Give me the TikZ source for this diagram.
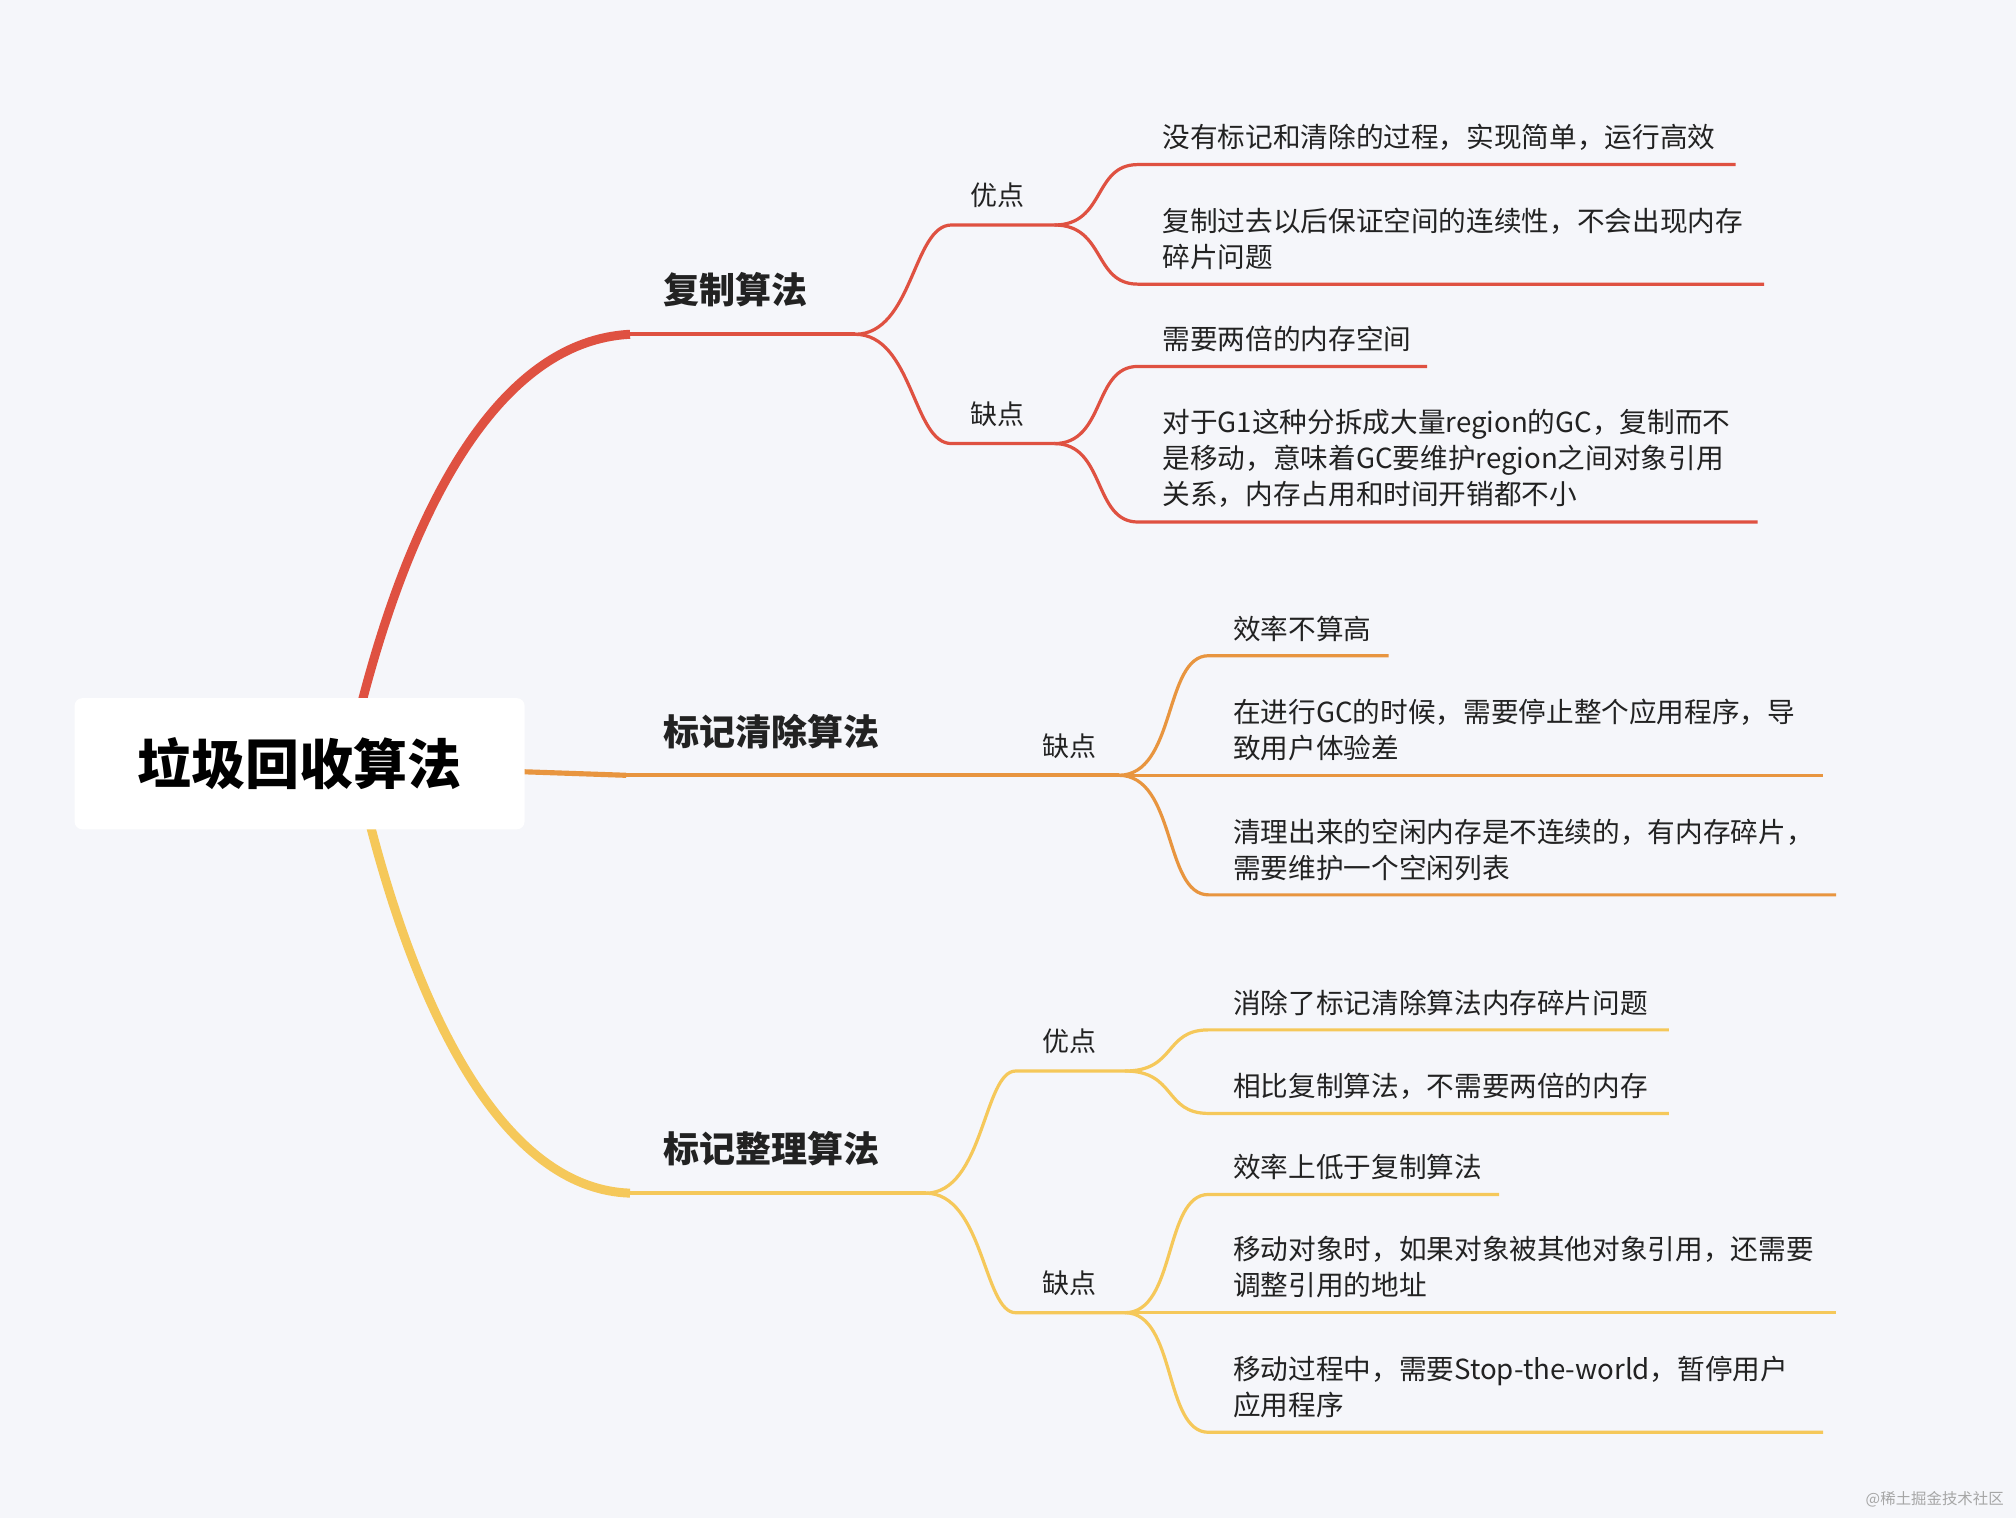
\documentclass[tikz,border=0pt]{standalone}
\usepackage{fontspec}
\setmainfont{Noto Sans CJK SC}
\definecolor{bg}{HTML}{F5F6FA}
\definecolor{cred}{HTML}{DF5141}
\definecolor{cora}{HTML}{E8953F}
\definecolor{cyel}{HTML}{F5C85A}
\definecolor{txt}{HTML}{222222}
\tikzset{x=1pt,y=-1pt,
 leaf/.style={anchor=south west,align=left,inner sep=2pt,font=\fontsize{21.5}{28}\selectfont,text=txt},
 sub/.style={anchor=south,inner sep=3pt,font=\fontsize{21}{28}\selectfont,text=txt},
 main/.style={anchor=south west,inner sep=4pt,font=\bfseries\fontsize{28}{32}\selectfont,text=txt},
 br/.style={line width=2.5pt},
}
\begin{document}
\begin{tikzpicture}
\fill[bg] (0,0) rectangle (1568,1181);
\useasboundingbox (0,0) rectangle (1568,1181);
% main branches
\coordinate (r0) at (490,260); \coordinate (r1) at (665,260);
\coordinate (o0) at (487,603); \coordinate (o1) at (870,603);
\coordinate (y0) at (490,928); \coordinate (y1) at (720,928);
\draw[cred,line width=7pt] (278,560) .. controls (320,390) and (390,265) .. (r0);
\draw[cred,line width=3pt] (r0) -- (r1);
\draw[cora,line width=4pt] (400,600) -- (o0);
\draw[cora,line width=3pt] (o0) -- (o1);
\draw[cyel,line width=7pt] (285,630) .. controls (330,810) and (400,925) .. (y0);
\draw[cyel,line width=3pt] (y0) -- (y1);
\node[fill=white,rounded corners=6pt,minimum width=350,minimum height=102,font=\bfseries\fontsize{42}{48}\selectfont,text=black] (root) at (233,594) {垃圾回收算法};
\node[main] (m1) at (512,243) {复制算法};
\node[main] (m2) at (512,587) {标记清除算法};
\node[main] (m3) at (512,911) {标记整理算法};
% red sub
\coordinate (a1) at (740,175); \coordinate (a2) at (820,175);
\coordinate (b1) at (740,345); \coordinate (b2) at (820,345);
\draw[cred,br] (r1) .. controls (710,260) and (710,175) .. (a1) -- (a2);
\draw[cred,br] (r1) .. controls (710,260) and (710,345) .. (b1) -- (b2);
\node[sub] (s1) at (776,165) {优点};
\node[sub] (s2) at (776,335) {缺点};
\foreach \s/\t/\e/\n in {a2/128/1350/l1,a2/221/1372/l2,b2/285/1110/l3,b2/406/1367/l4}{
 \coordinate (\n a) at (885,\t); \coordinate (\n b) at (\e,\t);
 \draw[cred,br] (\s) .. controls (860,\t |- \s) and (850,\t) .. (\n a) -- (\n b);}
\node[leaf] at (902,119) {没有标记和清除的过程，实现简单，运行高效};
\node[leaf] at (902,212) {复制过去以后保证空间的连续性，不会出现内存\\碎片问题};
\node[leaf] at (902,276) {需要两倍的内存空间};
\node[leaf] at (902,397) {对于G1这种分拆成大量region的GC，复制而不\\是移动，意味着GC要维护region之间对象引用\\关系，内存占用和时间开销都不小};
% orange
\node[sub] (s3) at (832,593) {缺点};
\foreach \t/\e/\n in {510/1080/p1,603/1418/p2,696/1428/p3}{
 \coordinate (\n a) at (940,\t); \coordinate (\n b) at (\e,\t);
 \draw[cora,br] (o1) .. controls (915,603) and (905,\t) .. (\n a) -- (\n b);}
\node[leaf] at (957,501) {效率不算高};
\node[leaf] at (957,594) {在进行GC的时候，需要停止整个应用程序，导\\致用户体验差};
\node[leaf] at (957,687) {清理出来的空闲内存是不连续的，有内存碎片，\\需要维护一个空闲列表};
% yellow
\coordinate (c1) at (790,833); \coordinate (c2) at (875,833);
\coordinate (d1) at (790,1021); \coordinate (d2) at (875,1021);
\draw[cyel,br] (y1) .. controls (765,928) and (765,833) .. (c1) -- (c2);
\draw[cyel,br] (y1) .. controls (765,928) and (765,1021) .. (d1) -- (d2);
\node[sub] (s4) at (832,823) {优点};
\node[sub] (s5) at (832,1011) {缺点};
\foreach \s/\t/\e/\n in {c2/801/1298/q1,c2/866/1298/q2,d2/929/1166/q3,d2/1021/1428/q4,d2/1114/1418/q5}{
 \coordinate (\n a) at (940,\t); \coordinate (\n b) at (\e,\t);
 \draw[cyel,br] (\s) .. controls (915,\t |- \s) and (905,\t) .. (\n a) -- (\n b);}
\node[leaf] at (957,792) {消除了标记清除算法内存碎片问题};
\node[leaf] at (957,857) {相比复制算法，不需要两倍的内存};
\node[leaf] at (957,920) {效率上低于复制算法};
\node[leaf] at (957,1012) {移动对象时，如果对象被其他对象引用，还需要\\调整引用的地址};
\node[leaf] at (957,1105) {移动过程中，需要Stop-the-world，暂停用户\\应用程序};
\node[anchor=south east,font=\fontsize{12}{14}\selectfont,text=gray!70] (wm) at (1562,1176) {@稀土掘金技术社区};
\end{tikzpicture}
\end{document}
